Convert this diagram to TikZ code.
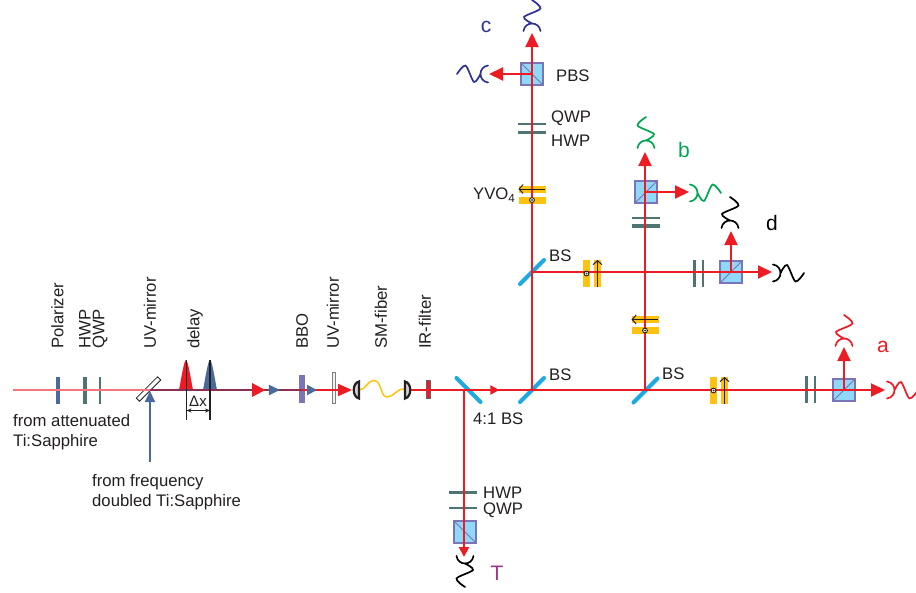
\documentclass[tikz,border=0pt]{standalone}
\usepackage{fontspec}
\setmainfont{Liberation Sans}
\usepackage{xcolor}
\usetikzlibrary{arrows.meta, decorations.markings}
\definecolor{beamred}{HTML}{ED1C24}
\definecolor{beampink}{HTML}{F4767C}
\definecolor{beamdark}{HTML}{8C2F52}
\definecolor{pumpblue}{HTML}{4A6A9C}
\definecolor{plateteal}{HTML}{4F7573}
\definecolor{cubeblue}{HTML}{8FD8F7}
\definecolor{cubeedge}{HTML}{7A74B8}
\definecolor{splitblue}{HTML}{1FA9E0}
\definecolor{crystalyellow}{HTML}{FFC20E}
\definecolor{outgreen}{HTML}{00A651}
\definecolor{outnavy}{HTML}{2E3192}
\definecolor{outmagenta}{HTML}{A0358A}
\definecolor{inktext}{HTML}{231F20}
\tikzset{
	plate/.style={inner sep=0pt, outer sep=0pt, minimum height=27pt},
	hwp/.style={plate, fill=plateteal, minimum width=3.5pt},
	qwp/.style={plate, fill=plateteal, minimum width=2pt},
	cube/.style={draw=cubeedge, fill=cubeblue, line width=1.1pt, inner sep=0pt, outer sep=0pt, minimum size=22pt},
	cubeline/.style={cubeedge, line width=0.9pt},
	splitter/.style={fill=splitblue, inner sep=0pt, outer sep=0pt, rounded corners=2pt, minimum width=38pt, minimum height=4pt},
	beam/.style={beamred, line width=2pt},
	outbeam/.style={beamred, line width=2pt, -{Triangle[length=14pt, width=13pt]}},
	lbl/.style={inner sep=0pt, anchor=west, text=inktext},
	vlbl/.style={lbl, rotate=90},
	tag/.style={inner sep=0pt, font=\fontsize{21}{21}\selectfont},
	headat/.style args={#1/#2/#3}{postaction={decorate}, decoration={markings,
		mark=at position #1 with {\arrow[#2]{Triangle[length=#3pt, width=#3pt]}}}},
	pics/coupler/.style={code={
		\draw[#1, line width=1.7pt, line cap=round] (0,-8.5) .. controls (10,-7) and (10,7) .. (0,8.5);
		\draw[#1, line width=1.7pt, line cap=round] plot[smooth] coordinates {(7.5,0) (14,-8) (22.5,8.5) (31,0)};
	}},
	pics/lens/.style={code={
		\draw[inktext, fill=gray!35, line width=2.2pt] (0,-8.5) .. controls (7,-7) and (7,7) .. (0,8.5) -- cycle;
	}},
	pics/crystalbars/.style={code={
		\fill[crystalyellow] (-9,-13.5) rectangle (-2,13.5);
		\fill[crystalyellow] (2,-13.5) rectangle (9,13.5);
	}},
	pics/crystalmarks/.style={code={
		\draw[inktext, line width=1pt, -{Straight Barb[length=4pt, width=9pt]}] (5.5,13) -- (5.5,-13.5);
		\draw[inktext, fill=white, line width=0.9pt] (-5.5,0) circle (2.4pt);
		\fill[inktext] (-5.5,0) circle (1pt);
	}},
}
\begin{document}
\begin{tikzpicture}[x=1pt, y=-1pt, font=\fontsize{16.7}{20}\selectfont]
	\useasboundingbox (0,0) rectangle (916,592);
	% junctions of the beam path
	\coordinate (start) at (13,390);
	\coordinate (pumpStart) at (150,462);
	\coordinate (pumpTip) at (150,391);
	\coordinate (uvm) at (150,390);
	\coordinate (bboPt) at (302,390);
	\coordinate (fiberIn) at (352,390);
	\coordinate (fiberOut) at (411,390);
	\coordinate (splitT) at (464,390);
	\coordinate (splitL) at (532,390);
	\coordinate (splitR) at (645,390);
	\coordinate (splitU) at (532,272);
	\coordinate (tipT) at (464,557);
	\coordinate (tipCup) at (532,33);
	\coordinate (tipCleft) at (489,74);
	\coordinate (tipBup) at (645,152);
	\coordinate (tipBright) at (689,192);
	\coordinate (tipDup) at (731,231);
	\coordinate (tipDright) at (772,272);
	\coordinate (tipAup) at (844,347);
	\coordinate (tipAright) at (885,390);
	% plates on the input line
	\node[hwp, fill=pumpblue] (polarizer) at (58,390.5) {};
	\node[hwp] (hwpIn) at (85,390.5) {};
	\node[qwp] (qwpIn) at (100,390.5) {};
	\node[fill=white, draw=inktext, line width=0.8pt, rotate=45, inner sep=0pt, minimum width=30pt, minimum height=4.5pt] (uvmA) at (148.5,389) {};
	\node[plate, fill=cubeedge, minimum width=6pt, minimum height=28pt] (bbo) at (302,389) {};
	\node[plate, fill=gray!12, draw=gray, line width=1pt, minimum width=3.5pt, minimum height=31pt] (uvmB) at (334,388) {};
	\node[plate, fill=beamred, draw=inktext!70, line width=0.5pt, minimum width=3.5pt, minimum height=18pt] (irFilter) at (428,389) {};
	% pulses and their separation
	\fill[beamred] (179,390) .. controls (181,380) and (184,360) .. (186,360) .. controls (188,360) and (191,380) .. (193,390) -- cycle;
	\fill[pumpblue] (203,390) .. controls (205,380) and (208,360) .. (210,360) .. controls (212,360) and (215,380) .. (217,390) -- cycle;
	% fiber
	\draw[crystalyellow, line width=1.5pt] (359,390) .. controls (366,390) and (367,380.5) .. (374,380.5) .. controls (382,380.5) and (380,397) .. (387,397) .. controls (394,397) and (397,388) .. (405,389);
	% beam splitters
	\node[splitter, rotate=-45] (bsTap) at (468.5,390) {};
	\node[splitter, rotate=45] (bsLow) at (532,390) {};
	\node[splitter, rotate=45] (bsRight) at (645.5,390.5) {};
	\node[splitter, rotate=45] (bsUp) at (532,272) {};
	% wave plates on the arms
	\node[hwp, rotate=90, minimum height=28pt] (hwpT) at (463,492.5) {};
	\node[qwp, rotate=90, minimum height=28pt] (qwpT) at (463,508) {};
	\node[qwp, rotate=90, minimum height=28pt] (qwpC) at (532,124) {};
	\node[hwp, rotate=90, minimum height=28pt] (hwpC) at (532,132.5) {};
	\node[qwp, rotate=90, minimum height=28pt] (qwpB) at (646,218) {};
	\node[hwp, rotate=90, minimum height=28pt] (hwpB) at (646,226) {};
	\node[hwp] (hwpD) at (694.5,273.5) {};
	\node[qwp] (qwpD) at (703,273.5) {};
	\node[hwp] (hwpA) at (806.5,389.5) {};
	\node[qwp] (qwpA) at (814.5,389.5) {};
	\foreach \x/\y/\a in {532/194.5/90, 645/325/90, 592/273.5/0, 719/390.5/0}
	\pic[rotate=\a] at (\x,\y) {crystalbars};
	% polarizing cubes
	\node[cube] (pbsT) at (465,532) {};
	\node[cube] (pbsC) at (532,74) {};
	\node[cube] (pbsB) at (646,192) {};
	\node[cube] (pbsD) at (731,272) {};
	\node[cube] (pbsA) at (844,390) {};
	\draw[cubeline] (pbsT.north west) -- (pbsT.south east);
	\draw[cubeline] (pbsC.north west) -- (pbsC.south east);
	\draw[cubeline] (pbsB.south west) -- (pbsB.north east);
	\draw[cubeline] (pbsD.south west) -- (pbsD.north east);
	\draw[cubeline] (pbsA.south west) -- (pbsA.north east);
	% beams
	\draw[beampink, line width=1.2pt] (start) -- (uvm);
	\draw[beamdark, line width=2pt, headat={0.757/beamred/13}, postaction={decorate, decoration={markings,
		mark=at position 0.855 with {\arrow[pumpblue]{Triangle[length=11pt, width=10pt]}}}}] (uvm) -- (bboPt);
	\draw[pumpblue, line width=2pt, -{Triangle[length=11pt, width=10pt]}] (pumpStart) -- (pumpTip);
	\draw[beam, headat={0.3/pumpblue/10}, -{Triangle[length=14pt, width=12pt]}] (bboPt) -- (fiberIn);
	\draw[beam] (fiberOut) -- (splitT);
	\draw[beam, headat={0.52/beamred/9}] (splitT) -- (splitL);
	\draw[beam] (splitL) -- (splitR);
	\draw[outbeam] (pbsC.center) -- (tipCleft);
	\draw[outbeam] (splitL) -- (tipCup);
	\draw[outbeam, -{Triangle[length=10pt, width=10pt]}] (splitT) -- (tipT);
	\draw[outbeam] (splitR) -- (tipBup);
	\draw[outbeam] (splitR |- pbsB.center) -- (tipBright);
	\draw[beam] (splitU) -- (pbsD.center);
	\draw[outbeam] (pbsD.center) -- (tipDup);
	\draw[outbeam] (pbsD.center) -- (tipDright);
	\draw[outbeam] (splitR) -- (tipAright);
	\draw[outbeam] (pbsA.center) -- (tipAup);
	% marks on top of the beams
	\foreach \x/\y/\a in {532/194.5/90, 645/325/90, 592/273.5/0, 719/390.5/0}
	\pic[rotate=\a] at (\x,\y) {crystalmarks};
	\pic[rotate=180] at (359,390) {lens};
	\pic at (405,390) {lens};
	% delay marks
	\coordinate (delayA) at (186.5,360);
	\coordinate (delayB) at (210,360);
	\coordinate (delayC) at (186.5,420);
	\coordinate (delayD) at (210,420);
	\coordinate (gapA) at (186.5,410.5);
	\coordinate (gapB) at (210,410.5);
	\draw[inktext, line width=1.2pt] (delayA) -- (delayC);
	\draw[inktext, line width=1.2pt] (delayB) -- (delayD);
	\draw[inktext, line width=0.8pt, {Stealth[length=5pt, width=4pt]}-{Stealth[length=5pt, width=4pt]}] (gapA) -- (gapB);
	% detectors
	\pic[rotate=90] at (532,31) {coupler=outnavy};
	\pic[rotate=180] at (488,74) {coupler=outnavy};
	\pic[rotate=-90] at (465,556) {coupler=black};
	\pic[rotate=90, yscale=-1] at (646,148) {coupler=outgreen};
	\pic[yscale=-1] at (690,193) {coupler=outgreen};
	\pic[rotate=90] at (730,228) {coupler=black};
	\pic at (773,273) {coupler=black};
	\pic[rotate=90] at (844,346) {coupler=beamred};
	\pic at (887,390) {coupler=beamred};
	% labels
	\foreach \x/\t/\n in {57.5/Polarizer/lblPol, 85/HWP/lblHwp, 100/QWP/lblQwp, 150/UV-mirror/lblUvA, 195/delay/lblDelay, 302/BBO/lblBbo, 333/UV-mirror/lblUvB, 381/SM-fiber/lblFiber, 425/IR-filter/lblIr}
	\node[vlbl] (\n) at (\x,349) {\t};
	\node[lbl, anchor=north west, align=left] (lblAtten) at (13,414) {from attenuated\\Ti:Sapphire};
	\node[lbl, anchor=north west, align=left] (lblFreq) at (92,474) {from frequency\\doubled Ti:Sapphire};
	\node[inner sep=0pt, text=inktext, font=\fontsize{15}{15}\selectfont] (lblGap) at (198,401) {Δx};
	\node[lbl] (lblPbs) at (556,76) {PBS};
	\node[lbl] (lblQwpC) at (551,118) {QWP};
	\node[lbl] (lblHwpC) at (551,141) {HWP};
	\node[lbl] (lblYvo) at (473,195) {YVO\textsubscript{4}};
	\node[lbl] (lblBsUp) at (549,256) {BS};
	\node[lbl] (lblBsLow) at (549,375) {BS};
	\node[lbl] (lblBsRight) at (662,374) {BS};
	\node[lbl] (lblTap) at (473,419) {4:1 BS};
	\node[lbl] (lblHwpT) at (483,493) {HWP};
	\node[lbl] (lblQwpT) at (483,510) {QWP};
	\node[tag, text=outnavy] (tagC) at (486,27) {c};
	\node[tag, text=outgreen] (tagB) at (684,150) {b};
	\node[tag, text=black] (tagD) at (772,223) {d};
	\node[tag, text=beamred] (tagA) at (883,347) {a};
	\node[tag, text=outmagenta] (tagT) at (497,573) {T};
\end{tikzpicture}
\end{document}
